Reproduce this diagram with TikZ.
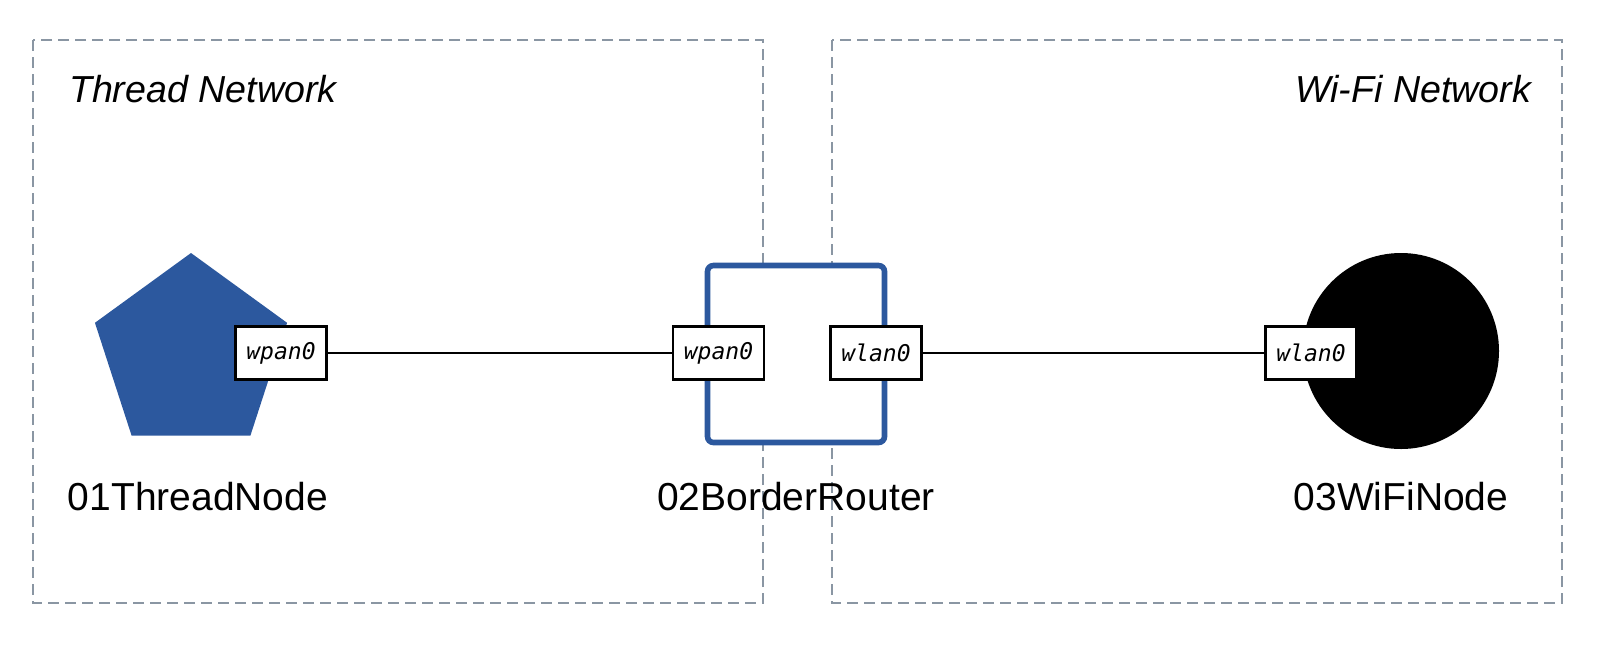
\documentclass[tikz,border=0pt]{standalone}
\usepackage{fontspec}
\setmainfont{Liberation Sans}
\newfontfamily\portfont{DejaVu Sans Mono}
\usetikzlibrary{shapes.geometric}
\definecolor{nodeblue}{RGB}{44,88,158}
\definecolor{netgray}{RGB}{138,150,163}
\begin{document}
\begin{tikzpicture}[x=0.5pt,y=-0.5pt,
		port/.style={draw=black, line width=1.1pt, fill=white, minimum width=45.5pt, minimum height=26.5pt, inner sep=0pt, font=\portfont\itshape\fontsize{11.5}{13}\selectfont},
		netbox/.style={draw=netgray, line width=1.2pt, dash pattern=on 5.5pt off 3pt},
		nettitle/.style={font=\itshape\fontsize{18.8}{23}\selectfont},
		devlabel/.style={font=\fontsize{19.5}{23}\selectfont}]
		\useasboundingbox (0,0) rectangle (1600,644);
		\draw[netbox] (33,40) rectangle (763,603);
		\draw[netbox] (832,40) rectangle (1562,603);
		\node[nettitle, anchor=base west] (threadnet) at (62,102) {Thread Network};
		\node[nettitle, anchor=base east] (wifinet) at (1538,102) {Wi-Fi Network};

		\node[regular polygon, regular polygon sides=5, minimum size=101pt, inner sep=0pt, fill=nodeblue] (thread) at (191,354) {};
		\node[draw=nodeblue, line width=2.8pt, rounded corners=3pt, fill=white, minimum width=88.5pt, minimum height=88.5pt] (router) at (796,354) {};
		\node[circle, fill=black, minimum size=98pt, inner sep=0pt] (wifi) at (1401,351) {};

		\node[port] (threadwpan) at (281,353) {wpan0};
		\node[port] (routerwpan) at (718.5,353) {wpan0};
		\node[port] (routerwlan) at (876,353) {wlan0};
		\node[port] (wifiwlan) at (1311,353) {wlan0};
		\draw[line width=1.1pt] (threadwpan) -- (routerwpan);
		\draw[line width=1.1pt] (routerwlan) -- (wifiwlan);

		\node[devlabel, anchor=base] (threadlabel) at (198,510) {01ThreadNode};
		\node[devlabel, anchor=base] (routerlabel) at (796,510) {02BorderRouter};
		\node[devlabel, anchor=base] (wifilabel) at (1401,510) {03WiFiNode};
	\end{tikzpicture}
\end{document}
